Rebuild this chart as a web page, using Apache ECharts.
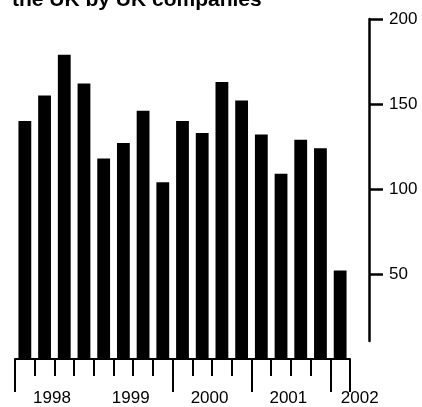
<!DOCTYPE html>
<html>
<head>
<meta charset="utf-8">
<script src="https://cdn.jsdelivr.net/npm/echarts@6/dist/echarts.min.js"></script>
<style>html,body{margin:0;padding:0;background:#fff}#c{width:422px;height:407px}</style>
</head>
<body>
<div id="c"></div>
<script>
const titleText = 'the UK by UK companies';
const quarters = ['1998 Q1','1998 Q2','1998 Q3','1998 Q4','1999 Q1','1999 Q2','1999 Q3','1999 Q4',
  '2000 Q1','2000 Q2','2000 Q3','2000 Q4','2001 Q1','2001 Q2','2001 Q3','2001 Q4','2002 Q1'];
const values = [140,155,179,162,118,127,146,104,140,133,163,152,132,109,129,124,52];
const years = ['1998','1999','2000','2001','2002'];
const yTicks = [50,100,150,200];
const majorTickIdx = [0,8,12,16];

// year label positions derived from the categories
const yearPos = years.map(y => {
  const f = quarters.findIndex(q => q.startsWith(y));
  const n = quarters.filter(q => q.startsWith(y)).length;
  return n === 4 ? f + n / 2 - 0.125 : f + n + 0.5;
});

const font = 'Liberation Sans, Arial, sans-serif';
const chart = echarts.init(document.getElementById('c'));
chart.setOption({
  animation: false,
  title: {
    text: titleText, left: 7, top: -15,
    textStyle: { fontFamily: font, fontWeight: 'bold', fontSize: 21, color: '#000' }
  },
  grid: [
    { left: 15, right: 72, top: 19, bottom: 48 },
    { left: 15, right: 72, top: 19, bottom: 66 },
    { left: 15, right: 422 - 15 - 19.7 * 19, top: 19, bottom: 48 }
  ],
  xAxis: [
    { type: 'category', gridIndex: 0, data: quarters, boundaryGap: true,
      axisLine: { show: true, lineStyle: { color: '#000', width: 2 } },
      axisTick: { show: true, interval: 0, length: 17, lineStyle: { color: '#000', width: 2 } },
      axisLabel: { show: false } },
    { type: 'category', gridIndex: 0, data: quarters, boundaryGap: true, position: 'bottom',
      axisLine: { show: false },
      axisTick: { show: true, interval: (i) => majorTickIdx.includes(i), length: 33, lineStyle: { color: '#000', width: 2 } },
      axisLabel: { show: false } },
    { type: 'value', gridIndex: 1, show: false, min: 0, max: 1 },
    { type: 'value', gridIndex: 2, min: 0, max: 19, position: 'bottom',
      axisLine: { show: false }, axisTick: { show: false }, splitLine: { show: false },
      axisLabel: { show: true, customValues: yearPos, margin: 34,
        formatter: (v) => { const i = yearPos.indexOf(v); return i >= 0 ? years[i] : ''; },
        fontFamily: font, fontSize: 17, color: '#000' } }
  ],
  yAxis: [
    { type: 'value', gridIndex: 0, position: 'right', offset: 19, min: 0, max: 200, interval: 50,
      axisLine: { show: false },
      axisTick: { show: true, customValues: yTicks, length: 14, lineStyle: { color: '#000', width: 2.5 } },
      axisLabel: { show: true, customValues: yTicks, margin: 20, fontFamily: font, fontSize: 17, color: '#000' },
      splitLine: { show: false } },
    { type: 'value', gridIndex: 1, position: 'right', offset: 19, min: 0, max: 1,
      axisLine: { show: true, onZero: false, lineStyle: { color: '#000', width: 2.5 } },
      axisTick: { show: false }, axisLabel: { show: false }, splitLine: { show: false } },
    { type: 'value', gridIndex: 2, show: false }
  ],
  series: [{
    type: 'bar', xAxisIndex: 0, yAxisIndex: 0, data: values,
    barCategoryGap: '35%',
    itemStyle: { color: '#000' }
  }]
});
</script>
</body>
</html>
